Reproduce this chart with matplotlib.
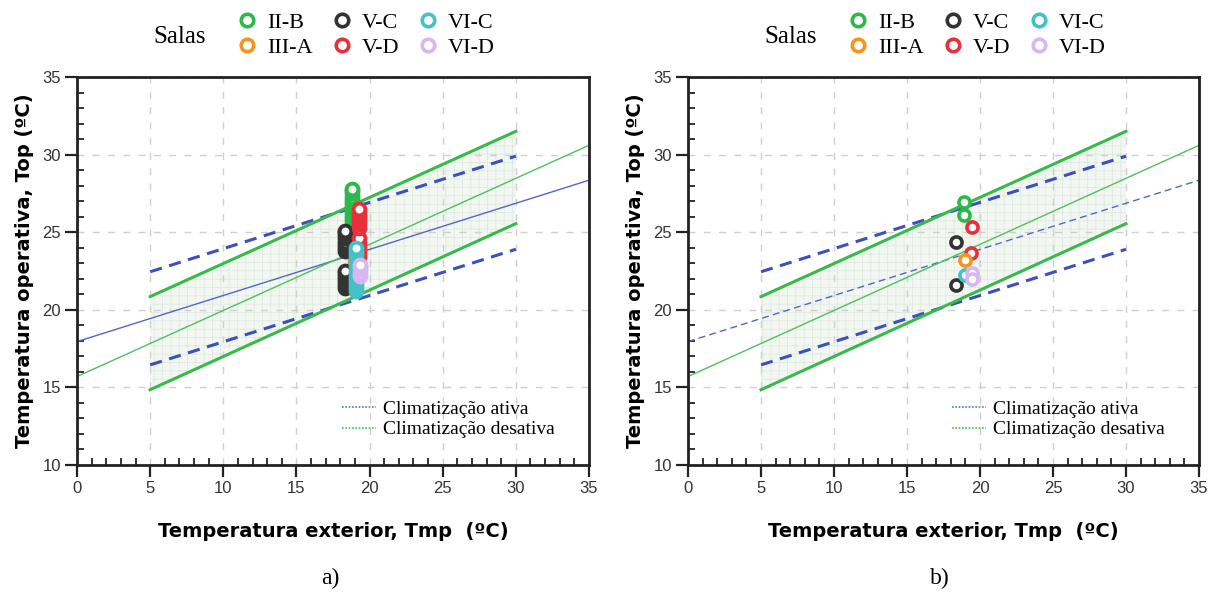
import matplotlib
matplotlib.use('Agg')
import matplotlib.pyplot as plt
from matplotlib.lines import Line2D
from matplotlib.ticker import MultipleLocator

plt.rcParams['hatch.linewidth'] = 0.6

# ---------------- data ----------------
rooms = ['II-B', 'III-A', 'V-C', 'V-D', 'VI-C', 'VI-D']
room_colors = ['#2db84a', '#f7941d', '#333333', '#e8303a', '#43c1c6', '#d8b6f0']

# comfort model bounds
band_x = [5, 30]
ashrae_upper = [22.45, 29.9]
ashrae_lower = [16.45, 23.9]
en_upper = [20.85, 31.5]
en_lower = [14.85, 25.55]
mid_x = [0, 35]
ashrae_mid = [17.95, 28.35]
en_mid = [15.7, 30.6]

# panel a: hourly operative temperatures per room
a_x_IIB = 18.8
a_y_IIB = [25.7, 25.9, 26.1, 26.3, 26.5, 26.7, 26.9, 27.1, 27.3, 27.5, 27.7, 27.8]
a_x_IIIA = 19.0
a_y_IIIA = [23.0, 23.2, 23.4]
a_x_VC = 18.3
a_y_VC = [21.4, 21.6, 21.8, 22.0, 22.2, 22.4, 22.5,
          23.8, 24.0, 24.2, 24.4, 24.6, 24.8, 25.0, 25.1]
a_x_VD = 19.3
a_y_VD = [23.4, 23.6, 23.8, 24.0, 24.2, 24.4, 24.6,
          25.3, 25.5, 25.7, 25.9, 26.1, 26.3, 26.5]
a_x_VIC = 19.05
a_y_VIC = [21.2, 21.4, 21.6, 21.8, 22.0, 22.2, 22.4, 22.6, 22.8,
           23.0, 23.2, 23.4, 23.6, 23.8, 24.0]
a_x_VID = 19.35
a_y_VID = [22.2, 22.4, 22.6, 22.8, 22.9]

# panel b: mean values per room
b_x_IIB = [18.9, 18.9]
b_y_IIB = [26.95, 26.1]
b_x_IIIA = [19.0]
b_y_IIIA = [23.2]
b_x_VC = [18.33, 18.33]
b_y_VC = [24.4, 21.6]
b_x_VD = [19.47, 19.38]
b_y_VD = [25.35, 23.65]
b_x_VIC = [18.95]
b_y_VIC = [22.25]
b_x_VID = [19.47, 19.45]
b_y_VID = [22.4, 22.0]

GREEN = '#38b94b'
BLUE = '#3b4fbf'

fig = plt.figure(figsize=(12.12, 5.97), dpi=100)
W, H = 1212, 597


def add_ax(left_px, right_px, top_px, bottom_px):
    return fig.add_axes([left_px / W, 1 - bottom_px / H,
                         (right_px - left_px) / W, (bottom_px - top_px) / H])


def style_axes(ax):
    ax.set_xlim(0, 35)
    ax.set_ylim(10, 35)
    ax.xaxis.set_major_locator(MultipleLocator(5))
    ax.yaxis.set_major_locator(MultipleLocator(5))
    ax.xaxis.set_minor_locator(MultipleLocator(1))
    ax.yaxis.set_minor_locator(MultipleLocator(1))
    ax.tick_params(which='major', direction='out', length=8.5, width=1.6,
                   color='#222222', pad=3, labelsize=12, labelcolor='#333333')
    ax.tick_params(which='minor', direction='in', length=5, width=1.3,
                   color='#222222')
    ax.tick_params(top=False, right=False, which='both')
    for lab in ax.get_xticklabels() + ax.get_yticklabels():
        lab.set_fontfamily('Liberation Sans')
    for sp in ax.spines.values():
        sp.set_linewidth(2)
        sp.set_color('#222222')
    ax.grid(which='major', color='#cfcfcf', linestyle=(0, (5, 6)), linewidth=1)
    ax.set_axisbelow(True)
    ax.set_xlabel('Temperatura exterior, Tmp  (ºC)', fontfamily='DejaVu Sans',
                  fontweight='bold', fontsize=14, labelpad=19)
    ax.set_ylabel('Temperatura operativa, Top (ºC)', fontfamily='DejaVu Sans',
                  fontweight='bold', fontsize=14, labelpad=6)


def draw_models(ax, mid_blue_ls):
    ax.fill_between(band_x, en_lower, en_upper, facecolor='#f2f7f2',
                    edgecolor='#dfe9e0', hatch='++', linewidth=0, zorder=0.5)
    ax.plot(band_x, ashrae_upper, color=BLUE, lw=2.2, ls=(0, (4, 2.5)), zorder=2)
    ax.plot(band_x, ashrae_lower, color=BLUE, lw=2.2, ls=(0, (4, 2.5)), zorder=2)
    ax.plot(band_x, en_upper, color=GREEN, lw=2.2, zorder=2)
    ax.plot(band_x, en_lower, color=GREEN, lw=2.2, zorder=2)
    ax.plot(mid_x, ashrae_mid, color='#5266c8', lw=1.0, ls=mid_blue_ls, zorder=2)
    ax.plot(mid_x, en_mid, color='#4cc25a', lw=1.0, zorder=2)
    h1 = Line2D([], [], color='#5a6fd0', lw=1.2, ls=(0, (1, 1)))
    h2 = Line2D([], [], color='#3fc052', lw=1.2, ls=(0, (1, 1)))
    ax.legend([h1, h2], ['Climatização ativa', 'Climatização desativa'],
              loc='upper left', bbox_to_anchor=(0.517, 0.167), frameon=False,
              prop={'family': 'Liberation Serif', 'size': 14},
              handlelength=1.75, handletextpad=0.35, labelspacing=0.15,
              borderpad=0, borderaxespad=0)


def ring(ax, x, y, color, ms, mew, z):
    ax.plot(x, y, ls='', marker='o', ms=ms, mew=mew, mfc='white', mec=color,
            zorder=z)


def top_legend(x_salas_px):
    handles = [Line2D([], [], ls='', marker='o', ms=9, mew=2.6, mfc='white',
                      mec=c) for c in room_colors]
    leg = fig.legend(handles, rooms, ncol=3, loc='upper left',
                     bbox_to_anchor=((x_salas_px + 86) / W, 1 - 12 / H),
                     frameon=False, prop={'family': 'Liberation Serif', 'size': 16},
                     handlelength=0.75, handletextpad=0.5, columnspacing=0.95,
                     labelspacing=0.22, borderpad=0, borderaxespad=0)
    fig.text(x_salas_px / W, 1 - 37 / H, 'Salas', fontfamily='Liberation Serif',
             fontsize=18, va='center', ha='left')
    return leg


# ---------------- panel a ----------------
axa = add_ax(77, 589, 77, 465)
style_axes(axa)
draw_models(axa, '-')
MSA, MEWA = 8.5, 2.8
ring(axa, [a_x_IIIA] * len(a_y_IIIA), a_y_IIIA, room_colors[1], MSA, MEWA, 3)
ring(axa, [a_x_IIB] * len(a_y_IIB), a_y_IIB, room_colors[0], MSA, MEWA, 3)
ring(axa, [a_x_VC] * len(a_y_VC), a_y_VC, room_colors[2], MSA, MEWA, 3)
ring(axa, [a_x_VD] * len(a_y_VD), a_y_VD, room_colors[3], MSA, MEWA, 3)
ring(axa, [a_x_VIC] * len(a_y_VIC), a_y_VIC, room_colors[4], MSA, MEWA, 3)
ring(axa, [a_x_VID] * len(a_y_VID), a_y_VID, room_colors[5], MSA, MEWA, 3)

# ---------------- panel b ----------------
axb = add_ax(688, 1199, 77, 465)
style_axes(axb)
draw_models(axb, (0, (5, 3)))
MSB, MEWB = 8, 2.6
ring(axb, b_x_IIB, b_y_IIB, room_colors[0], MSB, MEWB, 3)
ring(axb, b_x_VC, b_y_VC, room_colors[2], MSB, MEWB, 3)
ring(axb, b_x_VD, b_y_VD, room_colors[3], MSB, MEWB, 3)
ring(axb, b_x_IIIA, b_y_IIIA, room_colors[1], MSB, MEWB, 3)
ring(axb, b_x_VIC, b_y_VIC, room_colors[4], MSB, MEWB, 3)
ring(axb, b_x_VID, b_y_VID, room_colors[5], MSB, MEWB, 3)

top_legend(153)
top_legend(764)

fig.text(330 / W, 1 - 578 / H, 'a)', fontfamily='Liberation Serif', fontsize=17,
         ha='center', va='center')
fig.text(940 / W, 1 - 578 / H, 'b)', fontfamily='Liberation Serif', fontsize=17,
         ha='center', va='center')

fig.savefig('out.png', dpi=100)
